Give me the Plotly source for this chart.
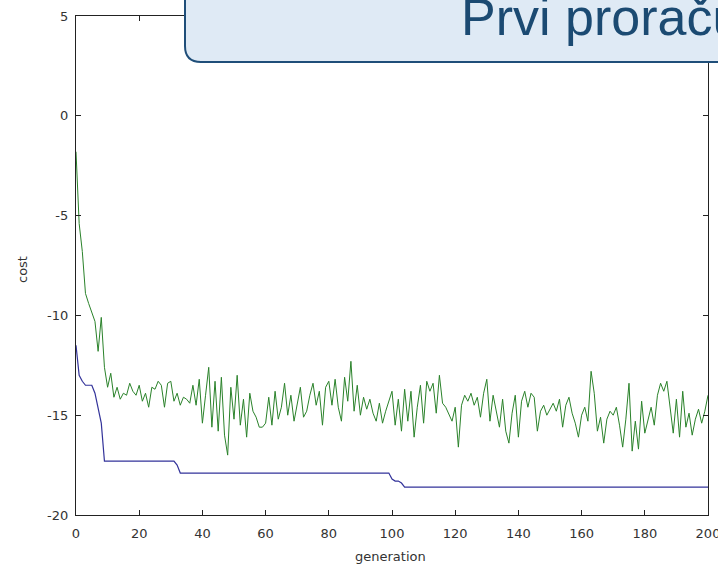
import plotly.graph_objects as go

generation = list(range(0, 201))

mean_cost = [
    -1.8, -5.4, -6.8, -8.9, -9.4, -9.9, -10.3, -11.8, -10.1, -12.6,
    -13.6, -12.9, -14.1, -13.6, -14.2, -13.9, -14.0, -13.4, -13.8, -14.0,
    -13.5, -14.3, -13.9, -14.6, -13.6, -13.7, -13.3, -13.5, -14.6, -13.4,
    -13.3, -14.3, -13.9, -14.5, -14.1, -14.2, -14.4, -13.5, -14.5, -13.2,
    -15.4, -14.0, -12.6, -15.6, -13.3, -15.8, -13.1, -16.0, -17.0, -13.6,
    -15.2, -13.0, -15.5, -14.2, -16.1, -13.9, -14.8, -15.1, -15.6, -15.6,
    -15.4, -14.1, -15.5, -13.8, -15.2, -14.6, -13.4, -15.0, -14.0, -15.3,
    -14.4, -13.6, -15.1, -14.8, -14.0, -13.4, -14.5, -13.8, -15.5, -13.6,
    -13.3, -14.5, -13.2, -14.6, -15.3, -13.1, -14.3, -12.3, -14.8, -13.5,
    -15.0, -14.1, -14.7, -14.2, -14.9, -15.3, -14.4, -15.4, -14.8, -14.3,
    -13.8, -15.5, -14.2, -15.8, -13.7, -15.3, -13.8, -16.1, -14.6, -13.5,
    -15.4, -13.3, -13.8, -13.4, -14.9, -13.0, -14.4, -14.6, -15.0, -15.3,
    -14.6, -16.6, -14.5, -14.0, -14.3, -13.9, -14.5, -14.1, -15.1, -13.9,
    -13.2, -15.3, -14.0, -14.8, -15.6, -14.2, -15.8, -16.4, -14.9, -14.0,
    -16.1, -14.3, -13.8, -14.6, -13.9, -14.1, -15.8, -14.8, -14.5, -15.0,
    -14.7, -14.4, -14.8, -14.2, -15.6, -14.5, -14.1, -14.9, -15.4, -16.1,
    -15.0, -14.6, -15.3, -12.8, -13.9, -15.8, -15.1, -16.4, -15.2, -14.8,
    -15.0, -14.6, -15.5, -16.6, -15.2, -13.4, -16.8, -15.3, -16.7, -14.3,
    -15.9, -15.2, -14.6, -15.5, -14.0, -13.4, -13.8, -13.3, -14.5, -15.9,
    -14.2, -16.1, -13.8, -15.6, -14.9, -16.0, -15.2, -14.7, -15.4, -14.8,
    -14.0,
]

best_cost = (
    [-11.5, -13.0, -13.3, -13.5, -13.5, -13.5, -13.9, -14.6, -15.4]
    + [-17.3] * 23          # gens 9..31
    + [-17.5]               # gen 32
    + [-17.9] * 67          # gens 33..99
    + [-18.2, -18.3, -18.3, -18.4]  # gens 100..103
    + [-18.6] * 97          # gens 104..200
)

x_ticks = [0, 20, 40, 60, 80, 100, 120, 140, 160, 180, 200]
y_ticks = [-20, -15, -10, -5, 0, 5]
y_tick_labels = ["-20", "-15", "-10", "-5", "0", "5"]
x_title = "generation"
y_title = "cost"
callout_text = "Prvi proračun"

# layout pixel geometry
W, H = 718, 569
L, R, T, B = 76, 10, 16, 54
PW, PH = W - L - R, H - T - B


def px(xp):
    return (xp - L) / PW


def py(yp):
    return (H - B - yp) / PH


fig = go.Figure()
fig.add_trace(go.Scatter(x=generation, y=best_cost, mode="lines",
                         line=dict(color="#33339a", width=1.2), showlegend=False))
fig.add_trace(go.Scatter(x=generation, y=mean_cost, mode="lines",
                         line=dict(color="#2a822a", width=1), showlegend=False))

tick_font = dict(family="DejaVu Sans", size=13, color="#333333")
axis_common = dict(
    showgrid=False, zeroline=False, showline=True, linecolor="#222222",
    linewidth=1.3, mirror="ticks", ticks="inside", ticklen=5,
    tickcolor="#222222", tickfont=tick_font, ticklabeloverflow="allow",
    automargin=False,
)
fig.update_xaxes(range=[0, 200], tickvals=x_ticks, ticklabelstandoff=6, **axis_common)
fig.update_yaxes(range=[-20, 5], tickvals=y_ticks, ticktext=y_tick_labels,
                 ticklabelstandoff=4, **axis_common)

# rounded callout box (top right)
x0, x1 = 185, 740
y0, y1 = -20, 62
r = 16
path = (
    f"M {px(x0)} {py(y0)} "
    f"L {px(x0)} {py(y1 - r)} "
    f"Q {px(x0)} {py(y1)} {px(x0 + r)} {py(y1)} "
    f"L {px(x1)} {py(y1)} "
    f"L {px(x1)} {py(y0)} Z"
)
fig.add_shape(type="path", path=path, xref="paper", yref="paper",
              fillcolor="#dfeaf5", line=dict(color="#1f4e79", width=2),
              layer="above")

fig.add_annotation(x=px(459), y=py(17), xref="paper", yref="paper",
                   text=callout_text, showarrow=False, xanchor="left",
                   yanchor="middle",
                   font=dict(family="Liberation Sans", size=52, color="#1b4a72"))

fig.add_annotation(x=px(390), y=py(556), xref="paper", yref="paper",
                   text=x_title, showarrow=False, xanchor="center", yanchor="middle",
                   font=dict(family="DejaVu Sans", size=13, color="#333333"))
fig.add_annotation(x=px(22), y=py(270), xref="paper", yref="paper",
                   text=y_title, showarrow=False, textangle=-90,
                   xanchor="center", yanchor="middle",
                   font=dict(family="DejaVu Sans", size=13, color="#333333"))

fig.update_layout(
    width=W, height=H,
    margin=dict(l=L, r=R, t=T, b=B, autoexpand=False),
    paper_bgcolor="white", plot_bgcolor="white",
    showlegend=False,
)

fig.write_html("out.html")
